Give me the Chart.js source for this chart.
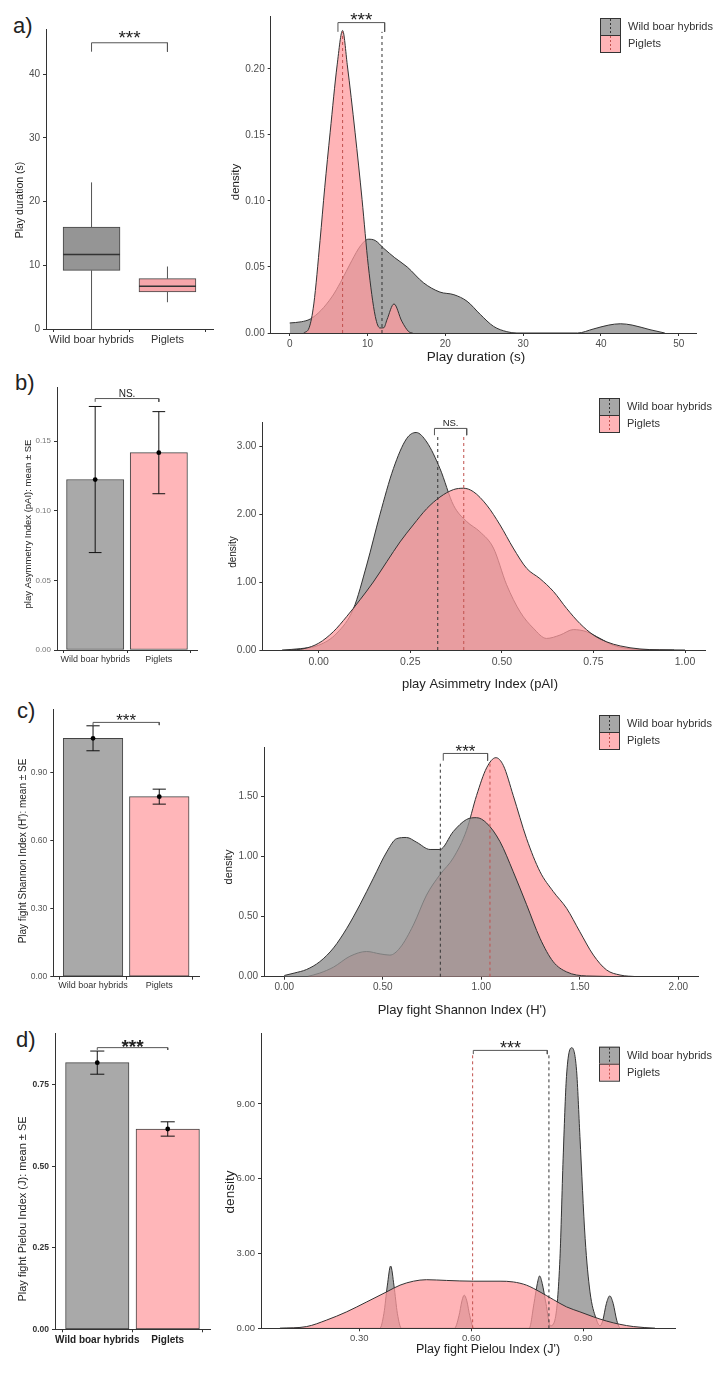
<!DOCTYPE html>
<html>
<head>
<meta charset="utf-8">
<script src="https://cdn.jsdelivr.net/npm/chart.js@4.4.1/dist/chart.umd.min.js"></script>
<style>
  html, body { margin: 0; padding: 0; background: #fff; }
  #page { position: relative; width: 720px; height: 1373px; overflow: hidden; }
  canvas { position: absolute; }
  .tag { position: absolute; font-family: 'Liberation Sans', Arial, sans-serif; font-size: 22px; line-height: 1; color: #222; }
</style>
</head>
<body>
<div id="page">
  <div class="tag" style="left:13px;top:15px">a)</div>
  <div class="tag" style="left:15px;top:372px">b)</div>
  <div class="tag" style="left:17px;top:700px">c)</div>
  <div class="tag" style="left:16px;top:1029px">d)</div>
  <canvas id="aL"></canvas>
  <canvas id="aR"></canvas>
  <canvas id="bL"></canvas>
  <canvas id="bR"></canvas>
  <canvas id="cL"></canvas>
  <canvas id="cR"></canvas>
  <canvas id="dL"></canvas>
  <canvas id="dR"></canvas>
</div>
<script>
const FONT = "'Liberation Sans', Arial, sans-serif";
Chart.defaults.font.family = FONT;
Chart.defaults.color = '#4d4d4d';

// ---------------- data ----------------
const groups = ['Wild boar hybrids', 'Piglets'];

// a) play duration: boxplot (min, Q1, median, Q3, max)
const aWildBox = [0, 9.2, 11.7, 16.0, 23.0];
const aPigBox = [4.2, 5.8, 6.7, 7.9, 9.8];
const aWildDens = [[0, 0.0076], [1.5, 0.0085], [2.65, 0.0106], [4, 0.017], [5.5, 0.028], [6.5, 0.038], [8, 0.055],
  [9.1, 0.066], [10.1, 0.071], [11, 0.070], [12.1, 0.064], [13.5, 0.057], [15.1, 0.050], [17.2, 0.038],
  [19.3, 0.031], [21.1, 0.029], [22.8, 0.024], [24.5, 0.014], [26.2, 0.005], [27.9, 0.001], [29.2, 0],
  [37, 0], [39, 0.003], [41, 0.006], [42.5, 0.007], [44, 0.006], [46.3, 0.0025], [48.2, 0]];
const aPigDens = [[1.8, 0], [2.5, 0.004], [3.1, 0.022], [3.9, 0.07], [4.5, 0.11], [5.2, 0.152], [6.1, 0.203],
  [6.8, 0.229], [7.4, 0.203], [8.4, 0.152], [9.3, 0.101], [10.1, 0.051], [11, 0.0126], [11.6, 0.0038],
  [12.1, 0.004], [12.5, 0.010], [13.4, 0.022], [14.4, 0.009], [15.3, 0.001], [15.8, 0]];
const aMedians = [11.86, 6.8];

// b) play asymmetry index
const bMeans = [0.1225, 0.1418];
const bSE = [0.0525, 0.0295];
const bWildDens = [[-0.10, 0], [-0.05, 0.02], [0, 0.07], [0.05, 0.25], [0.095, 0.61], [0.131, 1.25], [0.167, 1.99],
  [0.204, 2.67], [0.24, 3.11], [0.266, 3.2], [0.295, 3.06], [0.331, 2.67], [0.368, 2.13], [0.404, 1.89],
  [0.44, 1.74], [0.477, 1.5], [0.513, 0.96], [0.55, 0.56], [0.586, 0.32], [0.622, 0.17], [0.659, 0.22],
  [0.695, 0.30], [0.731, 0.27], [0.768, 0.17], [0.804, 0.07], [0.84, 0.025], [0.877, 0.008], [0.97, 0]];
const bPigDens = [[-0.08, 0], [-0.04, 0.02], [0, 0.1], [0.04, 0.27], [0.076, 0.49], [0.113, 0.74], [0.149, 1.0],
  [0.186, 1.3], [0.222, 1.59], [0.258, 1.84], [0.295, 2.08], [0.331, 2.25], [0.368, 2.36], [0.395, 2.38],
  [0.422, 2.33], [0.459, 2.13], [0.495, 1.84], [0.531, 1.5], [0.568, 1.2], [0.604, 1.05], [0.641, 0.86],
  [0.677, 0.61], [0.713, 0.39], [0.75, 0.22], [0.786, 0.12], [0.823, 0.06], [0.877, 0.015], [0.93, 0.003], [1.0, 0]];
const bMedians = [0.325, 0.396];

// c) play fight Shannon index
const cMeans = [1.05, 0.793];
const cSE = [0.055, 0.033];
const cWildDens = [[0, 0.01], [0.05, 0.03], [0.113, 0.06], [0.18, 0.125], [0.25, 0.24], [0.316, 0.4], [0.384, 0.6],
  [0.452, 0.82], [0.52, 1.04], [0.57, 1.15], [0.62, 1.16], [0.672, 1.12], [0.74, 1.06], [0.79, 1.06],
  [0.858, 1.21], [0.925, 1.31], [0.976, 1.325], [1.027, 1.28], [1.095, 1.125], [1.162, 0.875], [1.23, 0.6],
  [1.298, 0.32], [1.365, 0.125], [1.433, 0.04], [1.535, 0.006], [1.79, 0]];
const cPigDens = [[0.113, 0], [0.18, 0.03], [0.25, 0.08], [0.333, 0.17], [0.418, 0.21], [0.486, 0.19], [0.536, 0.18],
  [0.587, 0.24], [0.655, 0.43], [0.722, 0.68], [0.79, 0.85], [0.858, 0.99], [0.925, 1.22], [0.976, 1.51],
  [1.027, 1.74], [1.074, 1.825], [1.112, 1.76], [1.162, 1.51], [1.23, 1.15], [1.298, 0.875], [1.365, 0.71],
  [1.433, 0.57], [1.5, 0.375], [1.569, 0.18], [1.636, 0.056], [1.704, 0.014], [1.79, 0]];
const cMedians = [0.792, 1.044];

// d) play fight Pielou index
const dMeans = [0.818, 0.6145];
const dSE = [0.0355, 0.022];
const dWildDens = [[0.0875, 0], [0.355, 0], [0.366, 0.6], [0.375, 1.7], [0.384, 2.5], [0.393, 1.7], [0.402, 0.6],
  [0.413, 0], [0.555, 0], [0.567, 0.5], [0.575, 1.1], [0.581, 1.33], [0.588, 1.1], [0.596, 0.5], [0.607, 0],
  [0.755, 0], [0.768, 1.0], [0.777, 1.8], [0.783, 2.1], [0.79, 1.8], [0.8, 1.0], [0.812, 0.1], [0.825, 0.4],
  [0.8375, 2.8], [0.846, 6.8], [0.855, 10.1], [0.869, 11.26], [0.882, 10.35], [0.891, 7.7], [0.905, 3.6],
  [0.918, 1.46], [0.934, 0.4], [0.945, 0.1], [0.952, 0.3], [0.962, 1.0], [0.971, 1.3], [0.98, 1.0],
  [0.99, 0.3], [1.0, 0], [1.092, 0]];
const dPigDens = [[0.0875, 0], [0.159, 0.07], [0.2125, 0.33], [0.266, 0.66], [0.32, 1.06], [0.373, 1.46],
  [0.409, 1.73], [0.445, 1.89], [0.48, 1.95], [0.534, 1.92], [0.605, 1.89], [0.677, 1.89], [0.7125, 1.86],
  [0.748, 1.73], [0.784, 1.46], [0.82, 1.15], [0.855, 0.86], [0.891, 0.66], [0.927, 0.46], [0.9625, 0.29],
  [0.998, 0.16], [1.034, 0.07], [1.092, 0]];
const dMedians = [0.808, 0.6036];

const sigLabels = ['***', 'NS.', '***', '***'];

// tick values
const aBoxTicks = [0, 10, 20, 30, 40];
const aDensX = [0, 10, 20, 30, 40, 50];
const aDensY = [0, 0.05, 0.10, 0.15, 0.20];
const bBarTicks = [0, 0.05, 0.10, 0.15];
const bDensX = [0, 0.25, 0.5, 0.75, 1];
const bDensY = [0, 1, 2, 3];
const cBarTicks = [0, 0.3, 0.6, 0.9];
const cDensX = [0, 0.5, 1, 1.5, 2];
const cDensY = [0, 0.5, 1, 1.5];
const dBarTicks = [0, 0.25, 0.5, 0.75];
const dDensX = [0.3, 0.6, 0.9];
const dDensY = [0, 3, 6, 9];
const groupTicks = [1, 2];

// ---------------- styles ----------------
const INK = '#333333';
const GRAY_BOX = '#959595', PINK_BOX = '#f7a6aa';
const GRAY_BAR = '#a9a9a9', PINK_BAR = '#ffb6b9';
const GRAY_DENS = 'rgba(145,145,145,0.8)', PINK_DENS = 'rgba(255,154,158,0.74)';
const PINK_DASH = '#c0504d';

const int0 = v => String(v);
const dec2 = v => Number(v).toFixed(2);

// join line pieces, breaking the line between them
function seg(parts) {
  const out = [];
  parts.forEach((p, i) => { if (i) out.push([p[0][0], null]); out.push(...p); });
  return out;
}

function lineSet(data, color, extra) {
  return Object.assign({ type: 'line', data, borderColor: color, borderWidth: 1, pointRadius: 0,
    fill: false, tension: 0, clip: false, order: 0 }, extra || {});
}

function densSet(data, fillColor, order) {
  return { type: 'line', data, borderColor: INK, borderWidth: 1, backgroundColor: fillColor, fill: 'origin',
    pointRadius: 0, cubicInterpolationMode: 'monotone', order };
}

function bracketSet(b) {
  return lineSet([[b.x0, b.leg], [b.x0, b.top], [b.x1, b.top], [b.x1, b.leg]], '#555');
}

function medianSets(meds, top) {
  return [
    lineSet([[meds[0], 0], [meds[0], top]], INK, { borderDash: [3, 3] }),
    lineSet([[meds[1], 0], [meds[1], top]], PINK_DASH, { borderDash: [3, 3] })
  ];
}

function barSets(means, se, px) {
  const cap = 0.1;
  const bars = { type: 'bar', data: means.map((m, i) => ({ x: i + 1, y: m })), backgroundColor: [GRAY_BAR, PINK_BAR],
    borderColor: '#444', borderWidth: 1, borderSkipped: false, barThickness: px, order: 3 };
  const err = lineSet(seg(means.flatMap((m, i) => {
    const x = i + 1, lo = m - se[i], hi = m + se[i];
    return [[[x, lo], [x, hi]], [[x - cap, hi], [x + cap, hi]], [[x - cap, lo], [x + cap, lo]]];
  })), '#111', { order: 1 });
  const pts = { type: 'line', data: means.map((m, i) => [i + 1, m]), showLine: false, pointRadius: 2.4,
    pointBackgroundColor: '#000', pointBorderWidth: 0, order: 0 };
  return [bars, err, pts];
}

function boxSets(boxes, px) {
  const h = 0.375;
  const box = { type: 'bar', data: boxes.map((b, i) => ({ x: i + 1, y: [b[1], b[3]] })), backgroundColor: [GRAY_BOX, PINK_BOX],
    borderColor: '#444', borderWidth: 1, borderSkipped: false, barThickness: px, order: 3 };
  const whisk = lineSet(seg(boxes.flatMap((b, i) => [[[i + 1, b[0]], [i + 1, b[1]]], [[i + 1, b[3]], [i + 1, b[4]]]])), '#555', { order: 4 });
  const med = lineSet(seg(boxes.map((b, i) => [[i + 1 - h, b[2]], [i + 1 + h, b[2]]])), '#333', { borderWidth: 1.5, order: 1 });
  return [box, whisk, med];
}

// draws significance marks, axis titles and the legend
function extrasPlugin(p) {
  return {
    id: 'extras',
    afterDraw(chart) {
      const ctx = chart.ctx, xs = chart.scales.x, ys = chart.scales.y;
      const bx = p.box[0], by = p.box[1];
      ctx.save();
      (p.marks || []).forEach(t => {
        ctx.font = (t.bold ? 'bold ' : '') + t.size + 'px ' + FONT;
        ctx.fillStyle = t.color || '#222';
        ctx.textAlign = 'center';
        ctx.textBaseline = 'alphabetic';
        ctx.fillText(t.text, xs.getPixelForValue(t.x), ys.getPixelForValue(t.y) + t.size * t.mid);
      });
      (p.titles || []).forEach(t => {
        ctx.save();
        ctx.translate(t.x - bx, t.y - by);
        if (t.rot) ctx.rotate(-Math.PI / 2);
        ctx.font = (t.bold ? 'bold ' : '') + t.size + 'px ' + FONT;
        ctx.fillStyle = t.color || '#222';
        ctx.textAlign = 'center';
        ctx.textBaseline = 'middle';
        ctx.fillText(t.text, 0, 0);
        ctx.restore();
      });
      if (p.legend) {
        const keys = [[GRAY_DENS, INK], [PINK_DENS, PINK_DASH]];
        keys.forEach((k, i) => {
          const kx = p.legend[0] - bx, ky = p.legend[1] - by + i * 17;
          ctx.fillStyle = '#fff';
          ctx.fillRect(kx, ky, 20, 17);
          ctx.fillStyle = k[0];
          ctx.fillRect(kx, ky, 20, 17);
          ctx.strokeStyle = INK; ctx.lineWidth = 1;
          ctx.strokeRect(kx + 0.5, ky + 0.5, 20, 17);
          ctx.setLineDash([2, 2]);
          ctx.strokeStyle = k[1];
          ctx.beginPath(); ctx.moveTo(kx + 10.5, ky + 1); ctx.lineTo(kx + 10.5, ky + 17); ctx.stroke();
          ctx.setLineDash([]);
          ctx.font = '11px ' + FONT;
          ctx.fillStyle = '#333';
          ctx.textAlign = 'left'; ctx.textBaseline = 'middle';
          ctx.fillText(groups[i], kx + 28, ky + 9);
        });
      }
      ctx.restore();
    }
  };
}

function makeChart(id, p, datasets) {
  const cv = document.getElementById(id);
  const [bx, by, bw, bh] = p.box;
  const [L, T, R, B] = p.area;
  cv.width = bw; cv.height = bh;
  cv.style.left = bx + 'px'; cv.style.top = by + 'px';
  const xf = p.xFont, yf = p.yFont;
  const xPad = p.xLabelY - B - 3 - xf.size * 0.6;
  return new Chart(cv, {
    type: 'line',
    data: { datasets },
    options: {
      responsive: false, animation: false, events: [],
      layout: { padding: { left: 0, top: T - by, right: bx + bw - R, bottom: 0 } },
      plugins: { legend: { display: false }, tooltip: { enabled: false } },
      scales: {
        x: {
          type: 'linear', min: p.xRange[0], max: p.xRange[1], offset: false,
          afterFit: s => { s.height = by + bh - B; },
          afterBuildTicks: s => { s.ticks = p.xTicks.map(v => ({ value: v })); },
          ticks: { autoSkip: false, maxRotation: 0, minRotation: 0, padding: xPad, color: xf.color, font: { size: xf.size, weight: xf.weight || 'normal' }, callback: p.xFmt },
          grid: { display: true, drawOnChartArea: false, drawTicks: true, tickLength: 3, color: INK },
          border: { display: true, color: INK, width: 1 }
        },
        y: {
          type: 'linear', min: p.yRange[0], max: p.yRange[1],
          afterFit: s => { s.width = L - bx; },
          afterBuildTicks: s => { s.ticks = p.yTicks.map(v => ({ value: v })); },
          ticks: { autoSkip: false, padding: 3, color: yf.color, font: { size: yf.size, weight: yf.weight || 'normal' }, callback: p.yFmt },
          grid: { display: true, drawOnChartArea: false, drawTicks: true, tickLength: 3, color: INK },
          border: { display: true, color: INK, width: 1 }
        }
      }
    },
    plugins: [extrasPlugin(p)]
  });
}

const barPx = (area, w) => (area[2] - area[0]) / 2.2 * w;
const groupFmt = (v, i) => groups[i];
const star = (x, y, size, bold) => ({ x, y, text: '***', size, mid: 0.57, bold });

// ---------------- panel a ----------------
const pAL = {
  box: [0, 0, 240, 355], area: [46, 29, 213, 329], xRange: [0.4, 2.6], yRange: [0, 47.06],
  xTicks: groupTicks, yTicks: aBoxTicks, xFmt: groupFmt, yFmt: int0, xLabelY: 340,
  xFont: { size: 11, color: '#333' }, yFont: { size: 10, color: '#4d4d4d' },
  marks: [star(1.5, 46.4, 19)],
  titles: [{ x: 20, y: 200, text: 'Play duration (s)', size: 10.5, rot: true }]
};
makeChart('aL', pAL, [
  ...boxSets([aWildBox, aPigBox], barPx(pAL.area, 0.75)),
  bracketSet({ x0: 1, x1: 2, top: 44.9, leg: 43.5 })
]);

const pAR = {
  box: [220, 0, 500, 372], area: [270.7, 16, 696.7, 333], xRange: [-2.44, 52.3], yRange: [0, 0.240],
  xTicks: aDensX, yTicks: aDensY, xFmt: int0, yFmt: dec2, xLabelY: 344.5,
  xFont: { size: 10, color: '#4d4d4d' }, yFont: { size: 10, color: '#4d4d4d' },
  marks: [star(9.2, 0.241, 19)],
  titles: [{ x: 236, y: 182, text: 'density', size: 11.5, rot: true },
           { x: 476, y: 357, text: 'Play duration (s)', size: 13.5 }],
  legend: [600, 18]
};
makeChart('aR', pAR, [
  densSet(aPigDens, PINK_DENS, 1),
  densSet(aWildDens, GRAY_DENS, 2),
  ...medianSets(aMedians, 0.228),
  bracketSet({ x0: 6.2, x1: 12.2, top: 0.235, leg: 0.228 })
]);

// ---------------- panel b ----------------
const pBL = {
  box: [0, 360, 240, 320], area: [57, 387, 197, 650], xRange: [0.4, 2.6], yRange: [0, 0.189],
  xTicks: groupTicks, yTicks: bBarTicks, xFmt: groupFmt, yFmt: dec2, xLabelY: 659.3,
  xFont: { size: 9, color: '#333' }, yFont: { size: 8, color: '#777' },
  marks: [{ x: 1.5, y: 0.1842, text: sigLabels[1], size: 10, mid: 0.36 }],
  titles: [{ x: 28, y: 524, text: 'play Asymmetry Index (pAI): mean \u00b1 SE', size: 9.5, rot: true }]
};
makeChart('bL', pBL, [
  ...barSets(bMeans, bSE, barPx(pBL.area, 0.9)),
  bracketSet({ x0: 1, x1: 2, top: 0.1807, leg: 0.1783 })
]);

const pBR = {
  box: [220, 385, 500, 315], area: [262.3, 422.3, 705, 650], xRange: [-0.154, 1.0546], yRange: [0, 3.35],
  xTicks: bDensX, yTicks: bDensY, xFmt: dec2, yFmt: dec2, xLabelY: 661.7,
  xFont: { size: 10.5, color: '#4d4d4d' }, yFont: { size: 10, color: '#4d4d4d' },
  marks: [{ x: 0.36, y: 3.34, text: sigLabels[1], size: 9.5, mid: 0.36 }],
  titles: [{ x: 233, y: 552, text: 'density', size: 10, rot: true },
           { x: 480, y: 684, text: 'play Asimmetry Index (pAI)', size: 13 }],
  legend: [599, 398]
};
makeChart('bR', pBR, [
  densSet(bPigDens, PINK_DENS, 1),
  densSet(bWildDens, GRAY_DENS, 2),
  ...medianSets(bMedians, 3.16),
  bracketSet({ x0: 0.316, x1: 0.404, top: 3.26, leg: 3.16 })
]);

// ---------------- panel c ----------------
const pCL = {
  box: [0, 695, 240, 310], area: [53.3, 709, 199, 976.7], xRange: [0.4, 2.6], yRange: [0, 1.179],
  xTicks: groupTicks, yTicks: cBarTicks, xFmt: groupFmt, yFmt: dec2, xLabelY: 986,
  xFont: { size: 9, color: '#333' }, yFont: { size: 8.5, color: '#555' },
  marks: [star(1.5, 1.145, 17)],
  titles: [{ x: 23, y: 851, text: "Play fight Shannon Index (H'): mean \u00b1 SE", size: 10, rot: true }]
};
makeChart('cL', pCL, [
  ...barSets(cMeans, cSE, barPx(pCL.area, 0.9)),
  bracketSet({ x0: 1, x1: 2, top: 1.12, leg: 1.108 })
]);

const pCR = {
  box: [220, 705, 500, 320], area: [264, 747.7, 698.3, 976.7], xRange: [-0.103, 2.1015], yRange: [0, 1.908],
  xTicks: cDensX, yTicks: cDensY, xFmt: dec2, yFmt: dec2, xLabelY: 987.3,
  xFont: { size: 10, color: '#4d4d4d' }, yFont: { size: 10, color: '#4d4d4d' },
  marks: [star(0.92, 1.908, 17)],
  titles: [{ x: 229, y: 867, text: 'density', size: 11, rot: true },
           { x: 462, y: 1010, text: "Play fight Shannon Index (H')", size: 13 }],
  legend: [599, 715]
};
makeChart('cR', pCR, [
  densSet(cWildDens, GRAY_DENS, 1),
  densSet(cPigDens, PINK_DENS, 2),
  ...medianSets(cMedians, 1.80),
  bracketSet({ x0: 0.807, x1: 1.032, top: 1.86, leg: 1.80 })
]);

// ---------------- panel d ----------------
const pDL = {
  box: [0, 1025, 240, 340], area: [55, 1032, 210, 1329.3], xRange: [0.4, 2.6], yRange: [0, 0.9086],
  xTicks: groupTicks, yTicks: dBarTicks, xFmt: groupFmt, yFmt: dec2, xLabelY: 1340,
  xFont: { size: 10, color: '#222', weight: 'bold' }, yFont: { size: 8.5, color: '#333', weight: 'bold' },
  marks: [star(1.5, 0.881, 19, true)],
  titles: [{ x: 23, y: 1209, text: 'Play fight Pielou Index (J): mean \u00b1 SE', size: 11, rot: true }]
};
makeChart('dL', pDL, [
  ...barSets(dMeans, dSE, barPx(pDL.area, 0.9)),
  bracketSet({ x0: 1, x1: 2, top: 0.864, leg: 0.857 })
]);

const pDR = {
  box: [220, 1025, 500, 345], area: [261, 1031.7, 675, 1328.3], xRange: [0.0367, 1.1457], yRange: [0, 11.82],
  xTicks: dDensX, yTicks: dDensY, xFmt: dec2, yFmt: dec2, xLabelY: 1338.3,
  xFont: { size: 9.5, color: '#4d4d4d' }, yFont: { size: 9.5, color: '#4d4d4d' },
  marks: [star(0.705, 11.42, 18)],
  titles: [{ x: 230, y: 1192, text: 'density', size: 13.5, rot: true },
           { x: 488, y: 1350, text: "Play fight Pielou Index (J')", size: 12.5 }],
  legend: [599, 1046.7]
};
makeChart('dR', pDR, [
  densSet(dPigDens, PINK_DENS, 1),
  densSet(dWildDens, GRAY_DENS, 2),
  ...medianSets(dMedians, 11.0),
  bracketSet({ x0: 0.6054, x1: 0.8036, top: 11.15, leg: 11.0 })
]);
</script>
</body>
</html>
